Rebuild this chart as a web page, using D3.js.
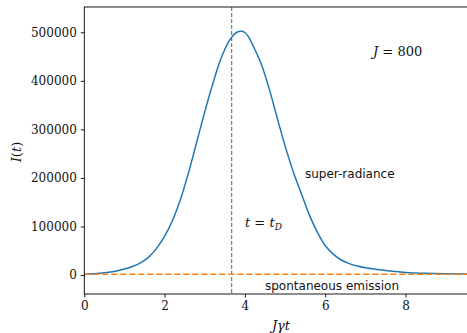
<!DOCTYPE html>
<html><head><meta charset="utf-8">
<script src="https://cdn.jsdelivr.net/npm/d3@7"></script>
<style>body{margin:0;background:#fff}svg{display:block}</style>
</head><body>
<svg id="c" width="467" height="333"></svg>
<script>
// ---- data ----
const tValues = [0, 0.3, 0.6, 0.8, 1.0, 1.2, 1.4, 1.6, 1.8, 2.0, 2.2, 2.4, 2.6, 2.8, 3.0, 3.2, 3.4, 3.6, 3.7, 3.8, 3.9,
  4.0, 4.1, 4.2, 4.4, 4.6, 4.8, 5.0, 5.2, 5.4, 5.6, 5.8, 6.0, 6.2, 6.4, 6.6, 6.8, 7.0, 7.3, 7.6, 8.0, 8.5, 9.0, 9.8];
const superRadiance = [1400, 3000, 5800, 8500, 12300, 17500, 25000, 37000, 55000, 80000, 113000, 157000, 212000, 274000, 336000, 394000, 445000, 481000, 493000, 500000, 502000,
  499500, 489000, 473000, 436000, 385000, 325000, 266000, 214000, 169000, 125000, 89000, 61000, 43000, 31000, 23500, 18500, 15000, 11500, 8500, 5500, 3500, 2500, 1700];
const spontT = [0, 9.8];
const spontaneous = [1600, 1600];
const tD = 3.67;
const xTicks = [0, 2, 4, 6, 8];
const yTicks = [0, 100000, 200000, 300000, 400000, 500000];
const xDomain = [0, 9.8];
const yDomain = [-39000, 552000];

// ---- layout ----
const svg = d3.select("#c");
const L = 84.3, T = 7, B = 294, R = L + 9.8 * 40.15;
const x = d3.scaleLinear().domain(xDomain).range([L, R]);
const y = d3.scaleLinear().domain(yDomain).range([B, T]);
const serif = "DejaVu Serif, serif";

svg.append("clipPath").attr("id", "clip").append("rect")
  .attr("x", L).attr("y", T).attr("width", R - L).attr("height", B - T);
const plot = svg.append("g").attr("clip-path", "url(#clip)");

// t_D line
plot.append("line").attr("x1", x(tD)).attr("x2", x(tD)).attr("y1", T).attr("y2", B)
  .attr("stroke", "#7a7a7a").attr("stroke-width", 1.2).attr("stroke-dasharray", "4,2");

// curve
const line = d3.line().x(d => x(d[0])).y(d => y(d[1])).curve(d3.curveCatmullRom.alpha(0.5));
plot.append("path").datum(tValues.map((t, i) => [t, superRadiance[i]]))
  .attr("d", line).attr("fill", "none").attr("stroke", "#1f77b4").attr("stroke-width", 1.5);

// spontaneous emission
plot.append("path").datum(spontT.map((t, i) => [t, spontaneous[i]]))
  .attr("d", d3.line().x(d => x(d[0])).y(d => y(d[1])))
  .attr("fill", "none").attr("stroke", "#ff7f0e").attr("stroke-width", 1.6).attr("stroke-dasharray", "6,3");

// axes
const xAxis = svg.append("g").attr("transform", `translate(0,${B})`)
  .call(d3.axisBottom(x).tickValues(xTicks).tickSize(3.5).tickPadding(4).tickFormat(d3.format("d")));
const yAxis = svg.append("g").attr("transform", `translate(${L},0)`)
  .call(d3.axisLeft(y).tickValues(yTicks).tickSize(3.5).tickPadding(4).tickFormat(d3.format("d")));
[xAxis, yAxis].forEach(g => {
  g.select(".domain").remove();
  g.selectAll("line").attr("stroke", "#000").attr("stroke-width", 0.9);
  g.selectAll("text").attr("font-family", serif).attr("font-size", 12).attr("fill", "#111");
});
// spines
svg.append("rect").attr("x", L).attr("y", T).attr("width", R - L).attr("height", B - T)
  .attr("fill", "none").attr("stroke", "#000").attr("stroke-width", 0.9);

// axis labels
svg.append("text").attr("transform", "translate(21,152) rotate(-90)")
  .attr("text-anchor", "middle").attr("font-family", serif).attr("font-size", 13).attr("fill", "#111")
  .html('<tspan font-style="italic">I</tspan>(<tspan font-style="italic">t</tspan>)');
svg.append("text").attr("x", 281).attr("y", 330)
  .attr("text-anchor", "middle").attr("font-family", serif).attr("font-size", 13).attr("font-style", "italic").attr("fill", "#111")
  .text("Jγt");

// annotations
svg.append("text").attr("x", 373).attr("y", 56).attr("font-family", serif).attr("font-size", 13).attr("fill", "#111")
  .html('<tspan font-style="italic">J</tspan> = 800');
svg.append("text").attr("x", 245).attr("y", 227).attr("font-family", serif).attr("font-size", 13).attr("fill", "#111")
  .html('<tspan font-style="italic">t</tspan> = <tspan font-style="italic">t</tspan><tspan font-style="italic" font-size="9" dy="3">D</tspan>');
svg.append("text").attr("x", 305).attr("y", 178).attr("font-family", "DejaVu Sans, sans-serif").attr("font-size", 12).attr("fill", "#111")
  .text("super-radiance");
svg.append("text").attr("x", 265).attr("y", 290).attr("font-family", "DejaVu Sans, sans-serif").attr("font-size", 12).attr("fill", "#111")
  .text("spontaneous emission");
</script>
</body></html>
